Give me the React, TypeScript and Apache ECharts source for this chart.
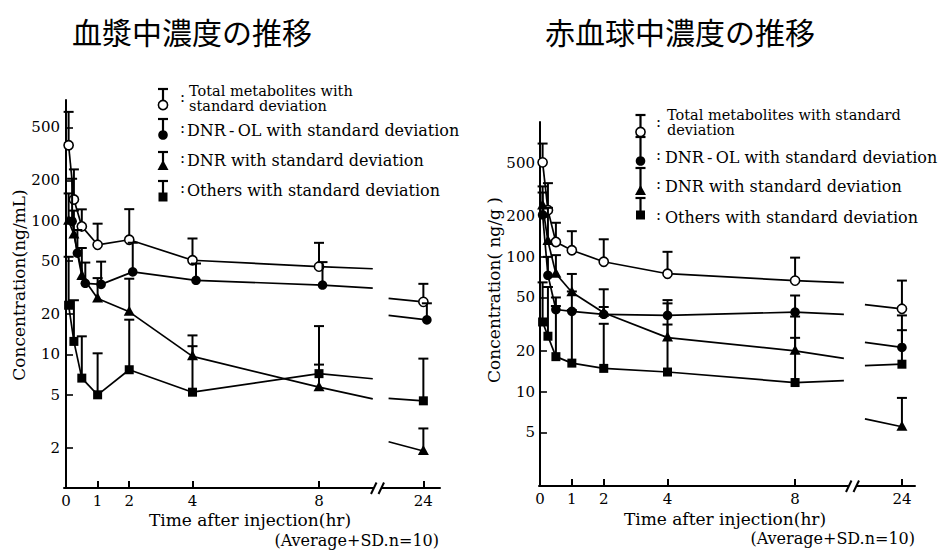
import React, { useEffect, useRef } from "react";
import * as echarts from "echarts";

// ---------------- data ----------------
const sampleHours = [0.083, 0.25, 0.5, 1, 2, 4, 8, 24];
const xTickHours = [0, 1, 2, 4, 8, 24];
const plasmaYTicks = [2, 5, 10, 20, 50, 100, 200, 500];
const rbcYTicks = [5, 10, 20, 50, 100, 200, 500];

const plasmaTitle = "血漿中濃度の推移";
const rbcTitle = "赤血球中濃度の推移";
const plasmaYName = "Concentration(ng/mL)";
const rbcYName = "Concentration( ng/g )";
const xName = "Time after injection(hr)";
const noteText = "(Average+SD.n=10)";

// Plasma (ng/mL): mean and SD
const plasmaTotal = [367, 144, 90.6, 66, 72, 50.6, 45.3, 24.7];
const plasmaTotalSD = [285, 98, 31, 29, 50, 23, 23, 9];
const plasmaDnrOl = [99, 57.2, 34, 33.4, 41.4, 35.8, 33, 18.1];
const plasmaDnrOlSD = [107, 28, 14.6, 16, 27, 12, 16, 6];
const plasmaDnr = [100, 79, 38.5, 26.2, 20.8, 9.66, 5.68, 1.89];
const plasmaDnrSD = [60, 40, 24, 11, 16, 4.2, 2.7, 0.9];
const plasmaOthers = [23.3, 12.5, 6.64, 4.98, 7.67, 5.21, 7.17, 4.49];
const plasmaOthersSD = [30.4, 12.9, 7, 5.2, 10.5, 6.3, 9.1, 4.8];
// line values read at the axis break (leaving 8 h, entering 24 h): Total, DNR-OL, DNR, Others
const plasmaBreakOut = [43.7, 31.3, 4.64, 6.57];
const plasmaBreakIn = [26.2, 19.6, 2.22, 4.69];

// Red blood cells (ng/g): mean and SD
const rbcTotal = [502, 222, 129, 112, 92, 75, 66.7, 41.2];
const rbcTotalSD = [190, 130, 50, 43, 43, 34, 32, 25.5];
const rbcDnrOl = [205, 73, 40.7, 39.4, 37.5, 36.8, 38.9, 21.3];
const rbcDnrOlSD = [95, 27, 9.3, 16, 5, 11, 12.8, 7.3];
const rbcDnr = [240, 131, 75, 54.7, 38.5, 25.2, 20.1, 5.5];
const rbcDnrSD = [93, 100, 28, 20, 19, 20, 16, 3.5];
const rbcOthers = [32.9, 25.8, 18.2, 16.3, 14.9, 14, 11.7, 16.0];
const rbcOthersSD = [31.8, 34, 25, 24, 17, 17.5, 13.4, 20.8];
const rbcBreakOut = [64.4, 37.5, 17.7, 12.1];
const rbcBreakIn = [44.3, 23.2, 6.3, 15.6];

const plasmaLegend = [
  ["Total metabolites with", "standard deviation"],
  ["DNR\u2009-\u2009OL with standard deviation"],
  ["DNR with standard deviation"],
  ["Others with standard deviation"],
];
const rbcLegend = [
  ["Total metabolites with standard", "deviation"],
  ["DNR\u2009-\u2009OL with standard deviation"],
  ["DNR with standard deviation"],
  ["Others with standard deviation"],
];

// ---------------- styles / layout ----------------
const SERIF = "DejaVu Serif";
const INK = "#000";
const markerKinds = ["open", "filled", "triangle", "square"];

const panels = [
  {
    grid: { left: 64, top: 100, width: 376, height: 388 },
    xMin: -0.063, xMax: 11.826, yMin: 1, yMax: 800,
    at24: 11.3, outX: 9.7, inX: 10.2, breakX: 9.85,
    dx: [0, 3.5, 0, 0],
    yTicks: plasmaYTicks,
    series: [
      [plasmaTotal, plasmaTotalSD],
      [plasmaDnrOl, plasmaDnrOlSD],
      [plasmaDnr, plasmaDnrSD],
      [plasmaOthers, plasmaOthersSD],
    ],
    breakOut: plasmaBreakOut, breakIn: plasmaBreakIn,
    title: plasmaTitle, titleX: 192, yName: plasmaYName, yNameX: 19, yNameY: 285,
    xNameX: 250, xNameY: 520, noteX: 439, noteY: 540,
    legend: plasmaLegend,
    legendX: 163, colonX: 180, textX: 187,
    legendRows: [
      { cap: 89, mark: 105, texts: [91, 106], colon: 97 },
      { cap: 119, mark: 135, texts: [130], colon: 128 },
      { cap: 152, mark: 166, texts: [160], colon: 158 },
      { cap: 181, mark: 197, texts: [190], colon: 188 },
    ],
  },
  {
    grid: { left: 539, top: 122, width: 376, height: 364 },
    xMin: -0.03, xMax: 11.76, yMin: 2, yMax: 1000,
    at24: 11.35, outX: 9.53, inX: 10.19, breakX: 9.8,
    dx: [0, 0, 0, 0],
    yTicks: rbcYTicks,
    series: [
      [rbcTotal, rbcTotalSD],
      [rbcDnrOl, rbcDnrOlSD],
      [rbcDnr, rbcDnrSD],
      [rbcOthers, rbcOthersSD],
    ],
    breakOut: rbcBreakOut, breakIn: rbcBreakIn,
    title: rbcTitle, titleX: 680, yName: rbcYName, yNameX: 494, yNameY: 290,
    xNameX: 725, xNameY: 519, noteX: 915, noteY: 538,
    legend: rbcLegend,
    legendX: 640.5, colonX: 656, textX: 665,
    legendRows: [
      { cap: 115, mark: 132, texts: [115, 130], colon: 122 },
      { cap: 137, mark: 161, texts: [157], colon: 155 },
      { cap: 168, mark: 191, texts: [186], colon: 184 },
      { cap: 198, mark: 215, texts: [217], colon: 215 },
    ],
  },
];

function markerShape(kind: string, x: number, y: number): any {
  if (kind === "open") {
    return { type: "circle", shape: { cx: x, cy: y, r: 4.6 }, style: { fill: "#fff", stroke: INK, lineWidth: 1.6 } };
  }
  if (kind === "filled") {
    return { type: "circle", shape: { cx: x, cy: y, r: 4.8 }, style: { fill: INK } };
  }
  if (kind === "triangle") {
    return { type: "polygon", shape: { points: [[x, y - 6], [x - 5.5, y + 4], [x + 5.5, y + 4]] }, style: { fill: INK } };
  }
  return { type: "rect", shape: { x: x - 4.5, y: y - 4.5, width: 9, height: 9 }, style: { fill: INK } };
}

function displayX(h: number, at24: number) {
  return h > 12 ? at24 : h;
}

function makeRenderItem(p: any, s: number) {
  const mean = p.series[s][0];
  const kind = markerKinds[s];
  const dx = p.dx[s];
  return (params: any, api: any) => {
    const i = params.dataIndex;
    const xv = api.value(0);
    const v = api.value(1);
    const sd = api.value(2);
    const c = api.coord([xv, v]);
    const x = c[0] + dx;
    const y = c[1];
    const top = api.coord([xv, v + sd])[1];
    const children: any[] = [];
    const ls = { stroke: INK, lineWidth: 1.7 };
    if (i < 6) {
      const q = api.coord([displayX(sampleHours[i + 1], p.at24), mean[i + 1]]);
      children.push({ type: "line", shape: { x1: x, y1: y, x2: q[0] + dx, y2: q[1] }, style: ls });
    } else if (i === 6) {
      const q = api.coord([p.outX, p.breakOut[s]]);
      children.push({ type: "line", shape: { x1: x, y1: y, x2: q[0], y2: q[1] }, style: ls });
    } else if (i === 7) {
      const q = api.coord([p.inX, p.breakIn[s]]);
      children.push({ type: "line", shape: { x1: q[0], y1: q[1], x2: x, y2: y }, style: ls });
    }
    children.push({ type: "line", shape: { x1: x, y1: y, x2: x, y2: top }, style: { stroke: INK, lineWidth: 2 } });
    children.push({ type: "line", shape: { x1: x - 5, y1: top, x2: x + 5, y2: top }, style: { stroke: INK, lineWidth: 2 } });
    children.push(markerShape(kind, x, y));
    return { type: "group", children };
  };
}

function makeBreakRender() {
  return (params: any, api: any) => {
    const c = api.coord([api.value(0), api.value(1)]);
    const x = c[0];
    const y = c[1];
    return {
      type: "group",
      children: [
        { type: "rect", shape: { x: x - 3.5, y: y - 3, width: 7, height: 6 }, style: { fill: "#fff" } },
        { type: "line", shape: { x1: x - 6.5, y1: y + 6, x2: x - 1, y2: y - 5.5 }, style: { stroke: INK, lineWidth: 2 } },
        { type: "line", shape: { x1: x + 1, y1: y + 6, x2: x + 6.5, y2: y - 5.5 }, style: { stroke: INK, lineWidth: 2 } },
      ],
    };
  };
}

function buildOption() {
  const grid: any[] = [];
  const xAxis: any[] = [];
  const yAxis: any[] = [];
  const series: any[] = [];
  const graphic: any[] = [];

  panels.forEach((p, k) => {
    grid.push({ ...p.grid, outerBoundsMode: "none", containLabel: false });
    xAxis.push({
      type: "value",
      gridIndex: k,
      min: p.xMin,
      max: p.xMax,
      axisLine: { show: true, onZero: false, lineStyle: { color: INK, width: 2 } },
      axisTick: {
        show: true,
        inside: true,
        length: 7,
        lineStyle: { color: INK, width: 2 },
        customValues: xTickHours.filter((h) => h > 0).map((h) => displayX(h, p.at24)),
      },
      axisLabel: {
        show: true,
        customValues: xTickHours.map((h) => displayX(h, p.at24)),
        formatter: (val: number) => (val > 9 ? "24" : String(Math.round(val))),
        color: INK,
        fontFamily: SERIF,
        fontSize: 15,
        margin: 5,
      },
      splitLine: { show: false },
    });
    yAxis.push({
      type: "log",
      logBase: 10,
      gridIndex: k,
      min: p.yMin,
      max: p.yMax,
      axisLine: { show: true, lineStyle: { color: INK, width: 2 } },
      axisTick: { show: true, inside: true, length: 7, lineStyle: { color: INK, width: 1.6 }, customValues: p.yTicks },
      axisLabel: {
        show: true,
        customValues: p.yTicks,
        formatter: (val: number) => String(Math.round(val)),
        color: INK,
        fontFamily: SERIF,
        fontSize: 15,
        margin: 4,
      },
      splitLine: { show: false },
      minorTick: { show: false },
    });

    p.series.forEach((pair: any, s: number) => {
      const [mean, sd] = pair;
      series.push({
        type: "custom",
        name: `${k}-${s}`,
        xAxisIndex: k,
        yAxisIndex: k,
        silent: true,
        clip: false,
        z: 3 + s,
        encode: { x: 0, y: 1 },
        data: sampleHours.map((h, i) => [displayX(h, p.at24), mean[i], sd[i]]),
        renderItem: makeRenderItem(p, s),
      });
    });
    series.push({
      type: "custom",
      name: `${k}-break`,
      xAxisIndex: k,
      yAxisIndex: k,
      silent: true,
      clip: false,
      z: 10,
      encode: { x: 0, y: 1 },
      data: [[p.breakX, p.yMin]],
      renderItem: makeBreakRender(),
    });

    // titles and axis names
    graphic.push({
      type: "text",
      x: p.titleX,
      y: 31,
      style: { text: p.title, fontFamily: "Noto Sans CJK JP", fontSize: 30, fill: INK, align: "center", verticalAlign: "middle" },
    });
    graphic.push({
      type: "text",
      x: p.yNameX,
      y: p.yNameY,
      rotation: Math.PI / 2,
      style: { text: p.yName, fontFamily: SERIF, fontSize: 17, fill: INK, align: "center", verticalAlign: "middle" },
    });
    graphic.push({
      type: "text",
      x: p.xNameX,
      y: p.xNameY,
      style: { text: xName, fontFamily: SERIF, fontSize: 17, fill: INK, align: "center", verticalAlign: "middle" },
    });
    graphic.push({
      type: "text",
      x: p.noteX,
      y: p.noteY,
      style: { text: noteText, fontFamily: SERIF, fontSize: 16, fill: INK, align: "right", verticalAlign: "middle" },
    });

    // legend
    p.legendRows.forEach((row: any, s: number) => {
      const lx = p.legendX;
      graphic.push({ type: "line", shape: { x1: lx, y1: row.cap, x2: lx, y2: row.mark }, style: { stroke: INK, lineWidth: 2.2 } });
      graphic.push({ type: "line", shape: { x1: lx - 5, y1: row.cap, x2: lx + 5, y2: row.cap }, style: { stroke: INK, lineWidth: 2.2 } });
      graphic.push(markerShape(markerKinds[s], lx, row.mark));
      graphic.push({
        type: "text",
        x: p.colonX,
        y: row.colon,
        style: { text: ":", fontFamily: SERIF, fontSize: 15, fill: INK, align: "left", verticalAlign: "middle" },
      });
      const lines: string[] = p.legend[s];
      const multi = lines.length > 1;
      lines.forEach((line: string, li: number) => {
        graphic.push({
          type: "text",
          x: p.textX + (multi ? 2 : 0),
          y: row.texts[li],
          style: {
            text: line,
            fontFamily: SERIF,
            fontSize: multi ? 14.5 : 16,
            lineHeight: multi ? 14 : 18,
            fill: INK,
            align: "left",
            verticalAlign: "middle",
          },
        });
      });
    });
  });

  return {
    animation: false,
    backgroundColor: "#fff",
    textStyle: { fontFamily: SERIF, color: INK },
    grid,
    xAxis,
    yAxis,
    series,
    graphic,
  };
}

export default function App() {
  const ref = useRef<HTMLDivElement | null>(null);
  useEffect(() => {
    document.body.style.margin = "0";
    if (!ref.current) return;
    const chart = echarts.init(ref.current, undefined, { renderer: "svg", width: 939, height: 552 });
    chart.setOption(buildOption() as any);
    return () => chart.dispose();
  }, []);
  return <div ref={ref} style={{ width: 939, height: 552 }} />;
}
